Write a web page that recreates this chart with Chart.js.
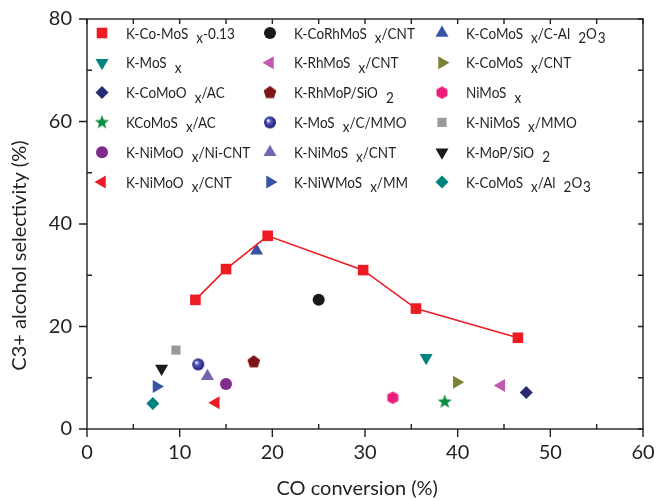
<!DOCTYPE html>
<html>
<head>
<meta charset="utf-8">
<script src="https://cdn.jsdelivr.net/npm/chart.js@4.4.0/dist/chart.umd.min.js"></script>
<style>
html, body { margin: 0; padding: 0; background: #fff; }
</style>
</head>
<body>
<canvas id="ChartSelectivity" width="656" height="501"></canvas>
<script>
// "_{..}" marks a subscript in the catalyst names
var catalystNames = [
    "K-Co-MoS_{x}-0.13", "K-CoRhMoS_{x}/CNT", "K-CoMoS_{x}/C-Al_{2}O_{3}",
    "K-MoS_{x}", "K-RhMoS_{x}/CNT", "K-CoMoS_{x}/CNT",
    "K-CoMoO_{x}/AC", "K-RhMoP/SiO_{2}", "NiMoS_{x}",
    "KCoMoS_{x}/AC", "K-MoS_{x}/C/MMO", "K-NiMoS_{x}/MMO",
    "K-NiMoO_{x}/Ni-CNT", "K-NiMoS_{x}/CNT", "K-MoP/SiO_{2}",
    "K-NiMoO_{x}/CNT", "K-NiWMoS_{x}/MM", "K-CoMoS_{x}/Al_{2}O_{3}"
];

// K-Co-MoSx-0.13 series (the connected red squares)
var seriesConversion = [11.7, 15.0, 19.5, 29.8, 35.5, 46.5];
var seriesSelectivity = [25.2, 31.2, 37.7, 31.0, 23.5, 17.8];

// single literature points, same order as catalystNames[1..]
var pointConversion = [25.0, 18.3, 36.6, 44.7, 39.9, 47.4, 18.0, 33.0, 38.6, 12.0, 9.6, 15.0, 13.0, 8.05, 13.9, 7.5, 7.1];
var pointSelectivity = [25.2, 34.8, 13.9, 8.5, 9.1, 7.1, 13.1, 6.1, 5.3, 12.6, 15.4, 8.8, 10.3, 11.8, 5.1, 8.3, 5.0];

var markerColors = [
    "#ED1C24", "#1A1A1A", "#3953A4",
    "#00827F", "#C15AAE", "#808034",
    "#262B73", "#7F1416", "#EC1E7B",
    "#0A8C45", "#2E3192", "#9A9A9A",
    "#7F2B8C", "#7A63AE", "#1A1A1A",
    "#ED1C24", "#3953A4", "#00827F"
];

var xTicks = [0, 10, 20, 30, 40, 50, 60];
var yTicks = [0, 20, 40, 60, 80];

var fontFamily = "Lato, 'Open Sans', sans-serif";
var inkColor = "#231F20";

function MakeMarker(size, paint) {
    var c = document.createElement("canvas");
    c.width = size;
    c.height = size;
    paint(c.getContext("2d"), size / 2);
    return c;
}

function PolygonMarker(size, sides, radius, inner, color) {
    return MakeMarker(size, function (g, m) {
        var n = inner ? sides * 2 : sides;
        g.beginPath();
        for (var k = 0; k < n; k++) {
            var r = (inner && k % 2 == 1) ? inner : radius;
            var a = -Math.PI / 2 + k * 2 * Math.PI / n;
            var px = m + r * Math.cos(a);
            var py = m + r * Math.sin(a);
            if (k == 0) g.moveTo(px, py); else g.lineTo(px, py);
        }
        g.closePath();
        g.fillStyle = color;
        g.fill();
    });
}

var sphereMarker = MakeMarker(14, function (g, m) {
    var grad = g.createRadialGradient(m - 2, m - 2, 0.5, m, m, 6);
    grad.addColorStop(0, "#ffffff");
    grad.addColorStop(0.3, "#5a5fc0");
    grad.addColorStop(0.75, "#2E3192");
    grad.addColorStop(1, "#1B1464");
    g.beginPath();
    g.arc(m, m, 6, 0, Math.PI * 2);
    g.fillStyle = grad;
    g.fill();
});

var markerStyles = [
    { style: "rect", radius: 7.5 }, { style: "circle", radius: 6 }, { style: "triangle", radius: 7.5 },
    { style: "triangle", radius: 7.5, rotation: 180 }, { style: "triangle", radius: 7.5, rotation: -90 }, { style: "triangle", radius: 7.5, rotation: 90 },
    { style: "rectRot", radius: 6.5 }, { style: PolygonMarker(16, 5, 6.7, 0, markerColors[7]), radius: 7 }, { style: PolygonMarker(16, 6, 6.3, 0, markerColors[8]), radius: 7 },
    { style: PolygonMarker(18, 5, 7.5, 3.1, markerColors[9]), radius: 7 }, { style: sphereMarker, radius: 6 }, { style: "rect", radius: 6.5 },
    { style: "circle", radius: 6 }, { style: "triangle", radius: 7.5 }, { style: "triangle", radius: 7.5, rotation: 180 },
    { style: "triangle", radius: 7.5, rotation: -90 }, { style: "triangle", radius: 7.5, rotation: 90 }, { style: "rectRot", radius: 6.5 }
];

function GetDatasets() {
    var sets = [];
    var index = 0;

    while (index < catalystNames.length) {
        var points = [];
        if (index == 0) {
            for (var k = 0; k < seriesConversion.length; k++) {
                points.push({ x: seriesConversion[k], y: seriesSelectivity[k] });
            }
        } else {
            points.push({ x: pointConversion[index - 1], y: pointSelectivity[index - 1] });
        }
        sets.push({
            label: catalystNames[index],
            data: points,
            showLine: index == 0,
            borderColor: markerColors[index],
            backgroundColor: markerColors[index],
            borderWidth: 1.6,
            pointStyle: markerStyles[index].style,
            pointRadius: markerStyles[index].radius,
            pointRotation: markerStyles[index].rotation || 0,
            pointBorderWidth: 0,
            pointHoverRadius: markerStyles[index].radius
        });
        index++;
    }
    return sets;
}

function SplitLabel(text) {
    var parts = [];
    var re = /_\{([^}]*)\}/g;
    var last = 0, m;
    while ((m = re.exec(text)) !== null) {
        if (m.index > last) parts.push({ text: text.substring(last, m.index), sub: false });
        parts.push({ text: m[1], sub: true });
        last = re.lastIndex;
    }
    if (last < text.length) parts.push({ text: text.substring(last), sub: false });
    return parts;
}

function NoScalePadding(scale) {
    scale.paddingTop = 0;
    scale.paddingBottom = 0;
    scale.paddingLeft = 0;
    scale.paddingRight = 0;
}

// frame with mirrored ticks, axis titles and the three-column legend
var framePlugin = {
    id: "frame",
    afterDraw: function (chart) {
        var ctx = chart.ctx;
        var area = chart.chartArea;
        var xs = chart.scales.x;
        var ys = chart.scales.y;

        ctx.save();
        ctx.strokeStyle = inkColor;
        ctx.lineWidth = 1.4;
        ctx.strokeRect(area.left, area.top, area.right - area.left, area.bottom - area.top);

        ctx.beginPath();
        for (var v = 0; v <= 60; v += 5) {
            var px = xs.getPixelForValue(v);
            if (v % 10 == 0) {
                ctx.moveTo(px, area.bottom); ctx.lineTo(px, area.bottom + 8);
            } else {
                ctx.moveTo(px, area.bottom); ctx.lineTo(px, area.bottom - 5);
            }
            ctx.moveTo(px, area.top); ctx.lineTo(px, area.top + 5);
        }
        for (var w = 0; w <= 80; w += 10) {
            var py = ys.getPixelForValue(w);
            if (w % 20 == 0) {
                ctx.moveTo(area.left, py); ctx.lineTo(area.left - 8, py);
            } else {
                ctx.moveTo(area.left, py); ctx.lineTo(area.left + 5, py);
            }
            ctx.moveTo(area.right, py); ctx.lineTo(area.right - 5, py);
        }
        ctx.stroke();

        // axis titles
        ctx.fillStyle = inkColor;
        ctx.font = "20px " + fontFamily;
        ctx.textAlign = "center";
        ctx.textBaseline = "middle";
        ctx.fillText("CO conversion (%)", area.left + (area.right - area.left) * 0.486, 489);
        ctx.save();
        ctx.translate(20, area.top + (area.bottom - area.top) * 0.577);
        ctx.rotate(-Math.PI / 2);
        ctx.fillText("C3+ alcohol selectivity (%)", 0, 0);
        ctx.restore();

        // legend
        var colX = [15, 183, 355];
        ctx.font = "15px " + fontFamily;
        ctx.textAlign = "left";
        ctx.textBaseline = "alphabetic";
        chart.data.datasets.forEach(function (ds, i) {
            var mx = area.left + colX[i % 3];
            var my = area.top + 14 + Math.floor(i / 3) * 29.8;
            ctx.fillStyle = ds.backgroundColor;
            Chart.helpers.drawPoint(ctx, {
                pointStyle: ds.pointStyle,
                radius: ds.pointRadius,
                rotation: ds.pointRotation,
                borderWidth: 0
            }, mx, my);

            ctx.fillStyle = inkColor;
            ctx.save();
            ctx.translate(mx + 24, 0);
            ctx.scale(0.9, 1);
            var tx = 0;
            var prev = "";
            SplitLabel(ds.label).forEach(function (part) {
                if (part.sub) {
                    tx += prev.length > 1 ? 9 : 1;
                    ctx.fillText(part.text, tx, my + 10);
                } else {
                    ctx.fillText(part.text, tx, my + 5.5);
                }
                tx += ctx.measureText(part.text).width;
                prev = part.text;
            });
            ctx.restore();
        });
        ctx.restore();
    }
};

var ctx = document.getElementById("ChartSelectivity").getContext("2d");

var graph = new Chart(ctx, {
    type: "scatter",
    data: { datasets: GetDatasets() },
    options: {
        responsive: false,
        animation: false,
        devicePixelRatio: 1,
        layout: { padding: { top: 19, right: 13, left: 0, bottom: 0 } },
        plugins: {
            legend: { display: false },
            tooltip: { enabled: false }
        },
        scales: {
            x: {
                type: "linear",
                min: 0,
                max: 60,
                afterFit: function (scale) { scale.height = 72; NoScalePadding(scale); },
                afterBuildTicks: function (scale) { scale.ticks = xTicks.map(function (t) { return { value: t }; }); },
                ticks: { padding: 12, color: inkColor, font: { family: fontFamily, size: 20 } },
                grid: { display: false, drawTicks: false },
                border: { display: false }
            },
            y: {
                type: "linear",
                min: 0,
                max: 80,
                afterFit: function (scale) { scale.width = 87; NoScalePadding(scale); },
                afterBuildTicks: function (scale) { scale.ticks = yTicks.map(function (t) { return { value: t }; }); },
                ticks: { padding: 15, color: inkColor, font: { family: fontFamily, size: 20 } },
                grid: { display: false, drawTicks: false },
                border: { display: false }
            }
        }
    },
    plugins: [framePlugin]
});
</script>
</body>
</html>
